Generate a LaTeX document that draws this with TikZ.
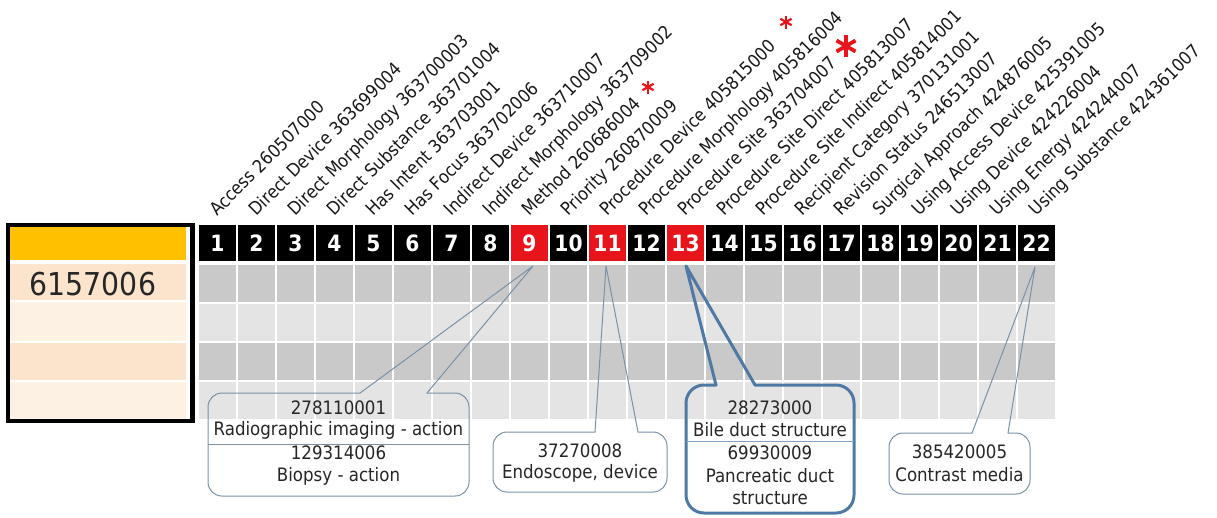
\documentclass[tikz,border=0pt]{standalone}
\usepackage{fontspec}
\usetikzlibrary{calc}
\setmainfont{DejaVu Sans Condensed}
\definecolor{hdrred}{HTML}{E8141B}
\definecolor{gdark}{HTML}{C9C9C9}
\definecolor{glight}{HTML}{E4E4E4}
\definecolor{orng}{HTML}{FFC000}
\definecolor{peach}{HTML}{FCE4CC}
\definecolor{peachl}{HTML}{FDF1E4}
\definecolor{callc}{HTML}{7A91A8}
\definecolor{callb}{HTML}{4E79A5}
\tikzset{
  hdr/.style={fill=black,draw=white,line width=1.5pt,minimum width=39pt,minimum height=38pt,
    inner sep=0pt,text=white,font=\bfseries\fontsize{22.5}{22.5}\selectfont},
  hdrr/.style={hdr,fill=hdrred},
  cellbox/.style={draw=white,line width=1.5pt,minimum width=39pt,minimum height=39pt,inner sep=0pt},
  lab/.style={rotate=45,anchor=base west,inner sep=0pt,font=\fontsize{18}{18}\selectfont,text=black!90},
  ctext/.style={inner sep=0pt,font=\fontsize{18.5}{19}\selectfont,text=black!85},
  callout/.style={draw=callc,line width=1pt,line join=round,line cap=round},
  calloutb/.style={draw=callb,line width=3pt,line join=round,line cap=round},
  star/.style={draw=hdrred,line cap=butt}
}
\begin{document}
\begin{tikzpicture}[x=1pt,y=-1pt]
\useasboundingbox (0,0) rectangle (1217,517);
% left box
\fill[orng] (10,227) rectangle (186,260);
\fill[peach] (10,264) rectangle (186,300);
\fill[peachl] (10,302) rectangle (186,341);
\fill[peach] (10,343) rectangle (186,380);
\fill[peachl] (10,382) rectangle (186,419);
\draw[line width=4.5pt] (8,225) rectangle (192.5,421);
\node[font=\fontsize{31.5}{31.5}\selectfont,text=black!85] (code) at (93,284) {6157006};
% grid rows
\foreach \k in {1,...,22}{
  \node[cellbox,fill=gdark]  (ra\k) at ({198+39*(\k-0.5)},283.5) {};
  \node[cellbox,fill=glight] (rb\k) at ({198+39*(\k-0.5)},322.5) {};
  \node[cellbox,fill=gdark]  (rc\k) at ({198+39*(\k-0.5)},361.5) {};
  \node[cellbox,fill=glight] (rd\k) at ({198+39*(\k-0.5)},400.5) {};
}
% header
\foreach \k in {1,...,22}{
  \ifnum\k=9 \def\hs{hdrr}\else\ifnum\k=11 \def\hs{hdrr}\else\ifnum\k=13 \def\hs{hdrr}\else\def\hs{hdr}\fi\fi\fi
  \node[\hs] (h\k) at ({198+39*(\k-0.5)},243) {\k};
}
% labels
\foreach \k/\t in {1/Access 260507000,2/Direct Device 363699004,3/Direct Morphology 363700003,
  4/Direct Substance 363701004,5/Has Intent 363703001,6/Has Focus 363702006,
  7/Indirect Device 363710007,8/Indirect Morphology 363709002,9/Method 260686004,
  10/Priority 260870009,11/Procedure Device 405815000,12/Procedure Morphology 405816004,
  13/Procedure Site 363704007,14/Procedure Site Direct 405813007,
  15/Procedure Site Indirect 405814001,16/Recipient Category 370131001,
  17/Revision Status 246513007,18/Surgical Approach 424876005,
  19/Using Access Device 425391005,20/Using Device 424226004,
  21/Using Energy 424244007,22/Using Substance 424361007}{
  \node[lab] (l\k) at ({198+39*(\k-0.5)},217) {\t};
}
% asterisks
\coordinate (s1) at (648,87);
\coordinate (s2) at (786,22);
\coordinate (s3) at (846,46);
\foreach \c/\r/\w in {s1/6.5/2.2pt,s2/6.5/2.2pt,s3/11/3.8pt}{
  \foreach \a in {90,30,-30}{
    \draw[star,line width=\w] ($(\c)+(\a:\r)$) -- ($(\c)+(\a+180:\r)$);
  }
}
% callout 1
\coordinate (t9) at (533,266);
\coordinate (f1a) at (360,393);
\coordinate (f1b) at (427,393);
\draw[callout,rounded corners=14pt] (f1b) -- (469,393) -- (469,496) -- (208,496) -- (208,393) -- (f1a);
\draw[callout] (f1a) -- (t9) -- (f1b);
\draw[callc,line width=0.8pt] (208,444) -- (469,444);
\node[ctext] (c1a) at (338.5,408) {278110001};
\node[ctext] (c1b) at (338.5,430) {Radiographic imaging - action};
\node[ctext] (c1c) at (338.5,453) {129314006};
\node[ctext] (c1d) at (338.5,476) {Biopsy - action};
% callout 2
\coordinate (t11) at (606,266);
\coordinate (f2a) at (595,432);
\coordinate (f2b) at (638,432);
\draw[callout,rounded corners=14pt] (f2b) -- (667,432) -- (667,492) -- (493,492) -- (493,432) -- (f2a);
\draw[callout] (f2a) -- (t11) -- (f2b);
\node[ctext] (c2a) at (580,451) {37270008};
\node[ctext] (c2b) at (580,473) {Endoscope, device};
% callout 3
\coordinate (t13) at (686,266);
\coordinate (f3a) at (716,385);
\coordinate (f3b) at (755,385);
\draw[calloutb,rounded corners=18pt] (f3b) -- (854,385) -- (854,513) -- (686,513) -- (686,385) -- (f3a);
\draw[calloutb] (f3a) -- (t13) -- (f3b);
\draw[callb!70,line width=0.8pt] (686,441) -- (854,441);
\node[ctext] (c3a) at (770,408) {28273000};
\node[ctext] (c3b) at (770,430) {Bile duct structure};
\node[ctext] (c3c) at (770,453) {69930009};
\node[ctext] (c3d) at (770,476) {Pancreatic duct};
\node[ctext] (c3e) at (770,498) {structure};
% callout 4
\coordinate (t22) at (1035,267);
\coordinate (f4a) at (972,433);
\coordinate (f4b) at (1008,433);
\draw[callout,rounded corners=14pt] (f4b) -- (1030,433) -- (1030,494) -- (889,494) -- (889,433) -- (f4a);
\draw[callout] (f4a) -- (t22) -- (f4b);
\node[ctext] (c4a) at (959.5,452) {385420005};
\node[ctext] (c4b) at (959.5,475) {Contrast media};
\end{tikzpicture}
\end{document}
